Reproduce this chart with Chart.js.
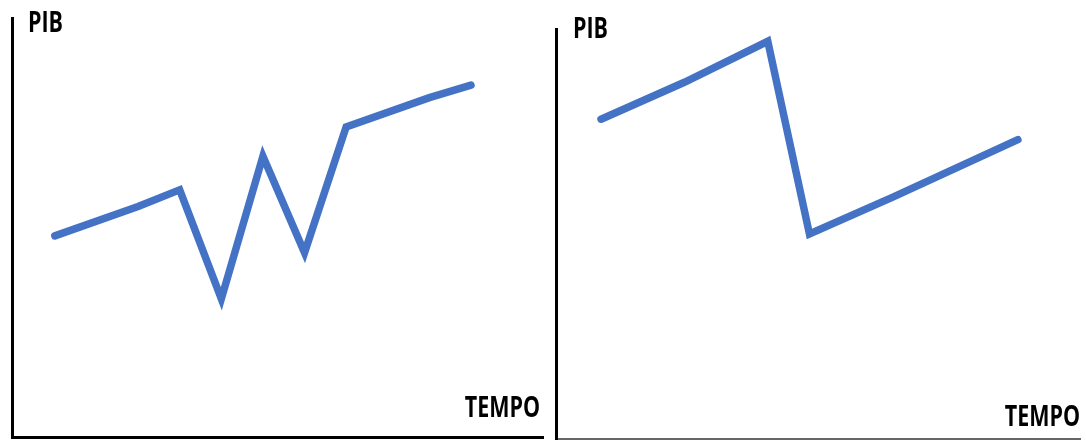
<!DOCTYPE html>
<html>
<head>
<meta charset="utf-8">
<script src="https://cdn.jsdelivr.net/npm/chart.js@4"></script>
<style>
  html, body { margin: 0; padding: 0; background: #fff; }
  #wrap { position: relative; width: 1086px; height: 441px; overflow: hidden; }
  #leftBox { position: absolute; left: 0; top: 0; }
  #rightBox { position: absolute; left: 548px; top: 0; }
</style>
</head>
<body>
<div id="wrap">
  <div id="leftBox"><canvas id="leftChart" width="548" height="441"></canvas></div>
  <div id="rightBox"><canvas id="rightChart" width="538" height="441"></canvas></div>
</div>
<script>
// axis titles
const yTitle = 'PIB';
const xTitle = 'TEMPO';

// left panel: volatile growth
const leftTime = [0, 2, 3, 4, 5, 6, 7, 9, 10];
const leftPib = [48, 55, 59, 33, 67, 44, 74, 81, 84];

// right panel: one big drop
const rightTime = [0, 2, 4, 5, 7, 10];
const rightPib = [78, 87, 97, 50, 59, 73];

const lineBlue = '#4472C4';

// draws PIB / TEMPO as narrow bold text near the axes
const axisTextPlugin = {
    id: 'axisText',
    afterDraw(chart, args, opts) {
        const ctx = chart.ctx;
        const area = chart.chartArea;
        ctx.save();
        ctx.fillStyle = '#000';
        ctx.font = 'bold 29px "Open Sans"';
        ctx.textBaseline = 'alphabetic';
        ctx.textAlign = 'left';

        ctx.save();
        ctx.translate(area.left + opts.yDx, area.top + opts.yDy);
        ctx.scale(0.74, 1);
        ctx.fillText(yTitle, 0, 0);
        ctx.restore();

        ctx.save();
        ctx.translate(area.right - opts.xDx, area.bottom - opts.xDy);
        ctx.scale(0.74, 1);
        ctx.textAlign = 'right';
        ctx.fillText(xTitle, 0, 0);
        ctx.restore();

        ctx.restore();
    }
};

function zeroFit(scale) {
    if (scale.isHorizontal()) scale.height = 0; else scale.width = 0;
}

function makeChart(canvasId, times, values, cfg) {
    const ctx = document.getElementById(canvasId).getContext('2d');
    return new Chart(ctx, {
        type: 'line',
        data: {
            datasets: [{
                data: times.map((t, i) => ({ x: t, y: values[i] })),
                borderColor: lineBlue,
                borderWidth: 7.5,
                borderCapStyle: 'round',
                borderJoinStyle: 'miter',
                pointRadius: 0,
                tension: 0,
                fill: false
            }]
        },
        options: {
            responsive: false,
            animation: false,
            events: [],
            layout: { padding: cfg.padding },
            plugins: {
                legend: { display: false },
                tooltip: { enabled: false },
                axisText: cfg.text
            },
            scales: {
                x: {
                    type: 'linear',
                    min: cfg.xMin, max: cfg.xMax,
                    ticks: { display: false },
                    grid: { display: false, drawTicks: false },
                    border: { display: true, color: cfg.xBorderColor, width: cfg.xBorderWidth },
                    afterFit: zeroFit
                },
                y: {
                    min: 0, max: 100,
                    ticks: { display: false },
                    grid: { display: false, drawTicks: false },
                    border: { display: true, color: '#000', width: 3 },
                    afterFit: zeroFit
                }
            }
        },
        plugins: [axisTextPlugin]
    });
}

makeChart('leftChart', leftTime, leftPib, {
    padding: { left: 12, right: 5, top: 18, bottom: 4 },
    xMin: -1.03, xMax: 11.73,
    xBorderColor: '#000', xBorderWidth: 3,
    text: { yDx: 16, yDy: 14, xDx: 3, xDy: 20 }
});

makeChart('rightChart', rightTime, rightPib, {
    padding: { left: 8, right: 6, top: 29, bottom: 2 },
    xMin: -1.08, xMax: 11.49,
    xBorderColor: '#666', xBorderWidth: 2,
    text: { yDx: 17, yDy: 9, xDx: 0, xDy: 13 }
});
</script>
</body>
</html>
